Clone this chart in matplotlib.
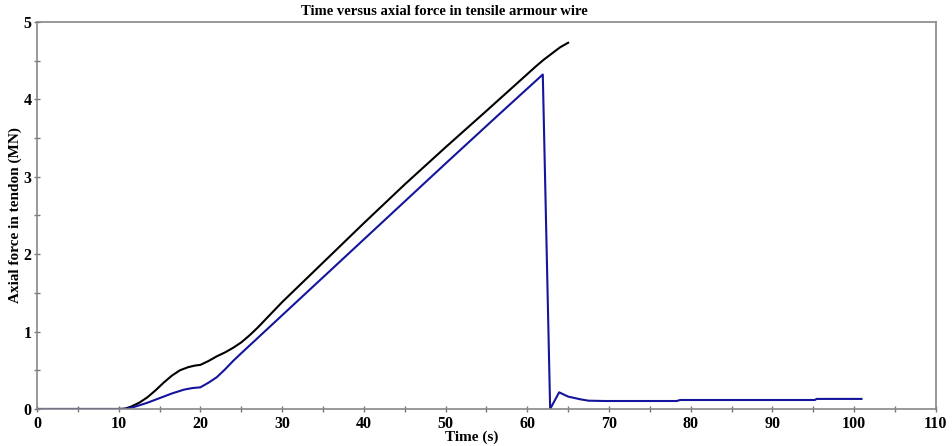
import matplotlib
matplotlib.use("Agg")
import matplotlib.pyplot as plt
from matplotlib.ticker import MultipleLocator

plt.rcParams["font.family"] = ["Liberation Serif", "DejaVu Serif"]
plt.rcParams["font.weight"] = "bold"

# axial force in the tendon over time (MN)
t_total = [0, 10.0, 10.8, 11.5, 12.5, 13.5, 14.5, 15.5, 16.5, 17.5, 18.5, 19.3, 20.0,
           21.0, 22.0, 23.0, 24.0, 25.0, 26.0, 27.0, 28.0, 30.0, 35.0, 40.0,
           45.0, 50.0, 55.0, 57.0, 59.0, 61.0, 62.0, 63.0, 64.0, 65.0]
f_total = [0, 0, 0.005, 0.03, 0.08, 0.15, 0.24, 0.34, 0.43, 0.50, 0.54, 0.56, 0.57,
           0.62, 0.68, 0.73, 0.79, 0.86, 0.95, 1.05, 1.16, 1.38, 1.89, 2.40,
           2.90, 3.38, 3.85, 4.04, 4.23, 4.42, 4.51, 4.59, 4.67, 4.73]

# axial force in the tensile armour wire (MN)
t_wire = [0, 10.5, 11.0, 12.0, 13.5, 15.0, 16.5, 18.0, 19.0, 20.0, 21.0, 22.0,
          23.0, 24.0, 25.0, 30.0, 40.0, 50.0, 56.7, 61.9, 62.8, 63.9, 65.0,
          66.5, 67.5, 69.5, 78.3, 78.7, 95.2, 95.4, 100.9]
f_wire = [0, 0, 0.005, 0.03, 0.08, 0.14, 0.20, 0.25, 0.27, 0.28, 0.34, 0.41,
          0.51, 0.62, 0.72, 1.21, 2.19, 3.17, 3.82, 4.32, 0.0, 0.215, 0.16,
          0.125, 0.107, 0.103, 0.103, 0.116, 0.116, 0.13, 0.13]

fig = plt.figure(figsize=(9.53, 4.46), dpi=100)
ax = fig.add_axes([0.0388, 0.083, 0.9432, 0.868])

ax.plot(t_total, f_total, color="black", lw=1.5)
ax.plot(t_wire, f_wire, color="#14149c", lw=1.5)

ax.set_xlim(0, 110)
ax.set_ylim(0, 5)
ax.xaxis.set_major_locator(MultipleLocator(10))
ax.xaxis.set_minor_locator(MultipleLocator(5))
ax.yaxis.set_major_locator(MultipleLocator(1))
ax.yaxis.set_minor_locator(MultipleLocator(0.5))

for s in ax.spines.values():
    s.set_color("#888888")
    s.set_linewidth(1.2)
ax.tick_params(which="both", direction="inout", color="#777777", length=4, width=1)
ax.tick_params(axis="x", labelsize=11.5, pad=3)
ax.tick_params(axis="y", labelsize=11.5, pad=2)
for lab in ax.get_xticklabels() + ax.get_yticklabels():
    lab.set_fontweight("bold")

# title sits a little left of the plot centre
ax.text(0.453, 1.028, "Time versus axial force in tensile armour wire",
        transform=ax.transAxes, ha="center", va="center",
        fontsize=10.5, fontweight="bold")
ax.set_xlabel("Time (s)", fontsize=11, fontweight="bold")
ax.set_ylabel("Axial force in tendon (MN)", fontsize=11, fontweight="bold")
ax.xaxis.set_label_coords(0.484, -0.072, transform=ax.transAxes)
ax.yaxis.set_label_coords(-0.024, 0.5, transform=ax.transAxes)
ax.xaxis.label.set_va("center")
ax.yaxis.label.set_va("center")

fig.savefig("out.png", dpi=100)
